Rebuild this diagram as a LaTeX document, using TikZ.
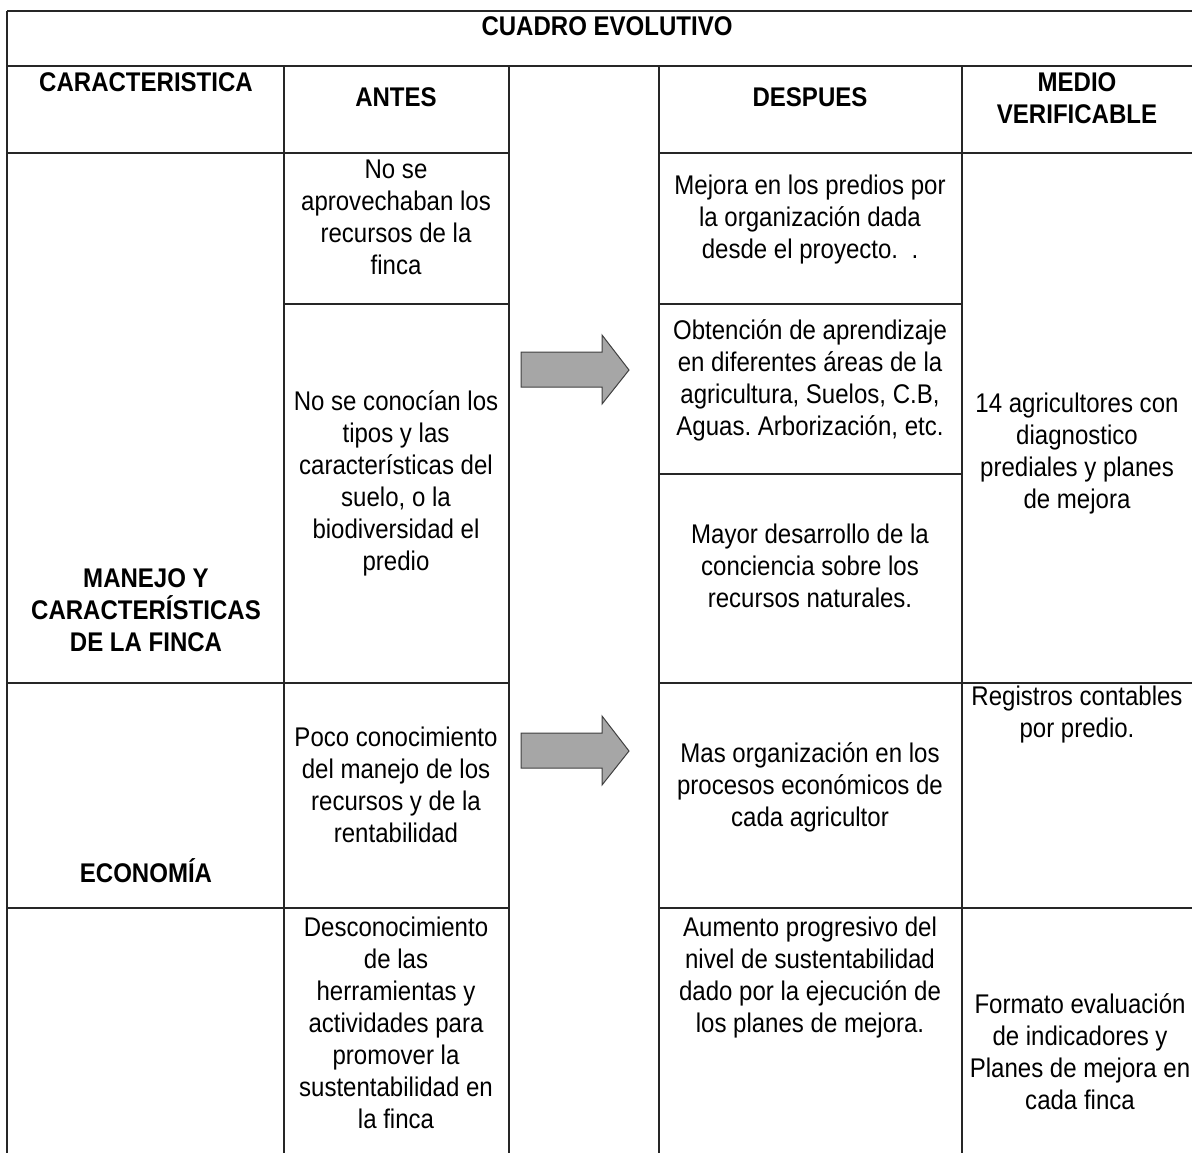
\documentclass[tikz,border=0pt]{standalone}
\usepackage{fontspec}
\setmainfont[FakeStretch=0.89]{Liberation Sans}
\usepackage{tikz}
\frenchspacing
\newcommand\topstrut{\vrule height 11.2pt width 0pt depth 0pt}

\begin{document}
\begin{tikzpicture}[x=0.5pt,y=-0.5pt,
    cell/.style={align=center,anchor=north,inner sep=0pt,font=\fontsize{13.5}{16}\selectfont},
    head/.style={cell,font=\fontsize{13.5}{16}\selectfont\bfseries},
    rule/.style={line width=0.7pt,color=black!85},
    blockarrow/.style={draw=black!75,line width=0.5pt,fill=black!35}]
\useasboundingbox (0,0) rectangle (1192,1153);
      \draw[rule] (7,11) -- (1192,11);
      \draw[rule] (7,66) -- (1192,66);
      \draw[rule] (7,11) -- (7,1153);
      \foreach \x in {284,509,659,962} \draw[rule] (\x,66) -- (\x,1153);
      \foreach \y in {153,683,908} {
        \draw[rule] (7,\y) -- (509,\y);
        \draw[rule] (659,\y) -- (1192,\y);
      }
      \draw[rule] (284,304) -- (509,304);
      \draw[rule] (659,304) -- (962,304);
      \draw[rule] (659,474) -- (962,474);
      \foreach \y in {370,751}
        \filldraw[blockarrow] (521,\y-18) -- (602,\y-18) -- (602,\y-35) -- (629,\y)
          -- (602,\y+34) -- (602,\y+17) -- (521,\y+17) -- cycle;
\node[head] (titulo) at (607,13) {\topstrut CUADRO EVOLUTIVO};
\node[head] (caract) at (146,69) {\topstrut CARACTERISTICA};
\node[head] (antes) at (396,84) {\topstrut ANTES};
\node[head] (despues) at (810,84) {\topstrut DESPUES};
\node[head] (medio) at (1077,69) {\topstrut MEDIO\\VERIFICABLE};
\node[head] (manejo) at (146,565) {\topstrut MANEJO Y\\CARACTERÍSTICAS\\DE LA FINCA};
\node[head] (economia) at (146,858) {\topstrut ECONOMÍA};
\node[cell] (antesA) at (396,156) {\topstrut No se\\aprovechaban los\\recursos de la\\finca};
\node[cell] (antesB) at (396,388) {\topstrut No se conocían los\\tipos y las\\características del\\suelo, o la\\biodiversidad el\\predio};
\node[cell] (antesC) at (396,724) {\topstrut Poco conocimiento\\del manejo de los\\recursos y de la\\rentabilidad};
\node[cell] (antesD) at (396,914) {\topstrut Desconocimiento\\de las\\herramientas y\\actividades para\\promover la\\sustentabilidad en\\la finca};
\node[cell] (despuesA) at (810,172) {\topstrut Mejora en los predios por\\la organización dada\\desde el proyecto.\ \ .};
\node[cell] (despuesB) at (810,317) {\topstrut Obtención de aprendizaje\\en diferentes áreas de la\\agricultura, Suelos, C.B,\\Aguas. Arborización, etc.};
\node[cell] (despuesC) at (810,521) {\topstrut Mayor desarrollo de la\\conciencia sobre los\\recursos naturales.};
\node[cell] (despuesD) at (810,740) {\topstrut Mas organización en los\\procesos económicos de\\cada agricultor};
\node[cell] (despuesE) at (810,914) {\topstrut Aumento progresivo del\\nivel de sustentabilidad\\dado por la ejecución de\\los planes de mejora.};
\node[cell] (medioA) at (1077,390) {\topstrut 14 agricultores con\\diagnostico\\prediales y planes\\de mejora};
\node[cell] (medioB) at (1077,683) {\topstrut Registros contables\\por predio.};
\node[cell] (medioC) at (1080,991) {\topstrut Formato evaluación\\de indicadores y\\Planes de mejora en\\cada finca};
\end{tikzpicture}
\end{document}
